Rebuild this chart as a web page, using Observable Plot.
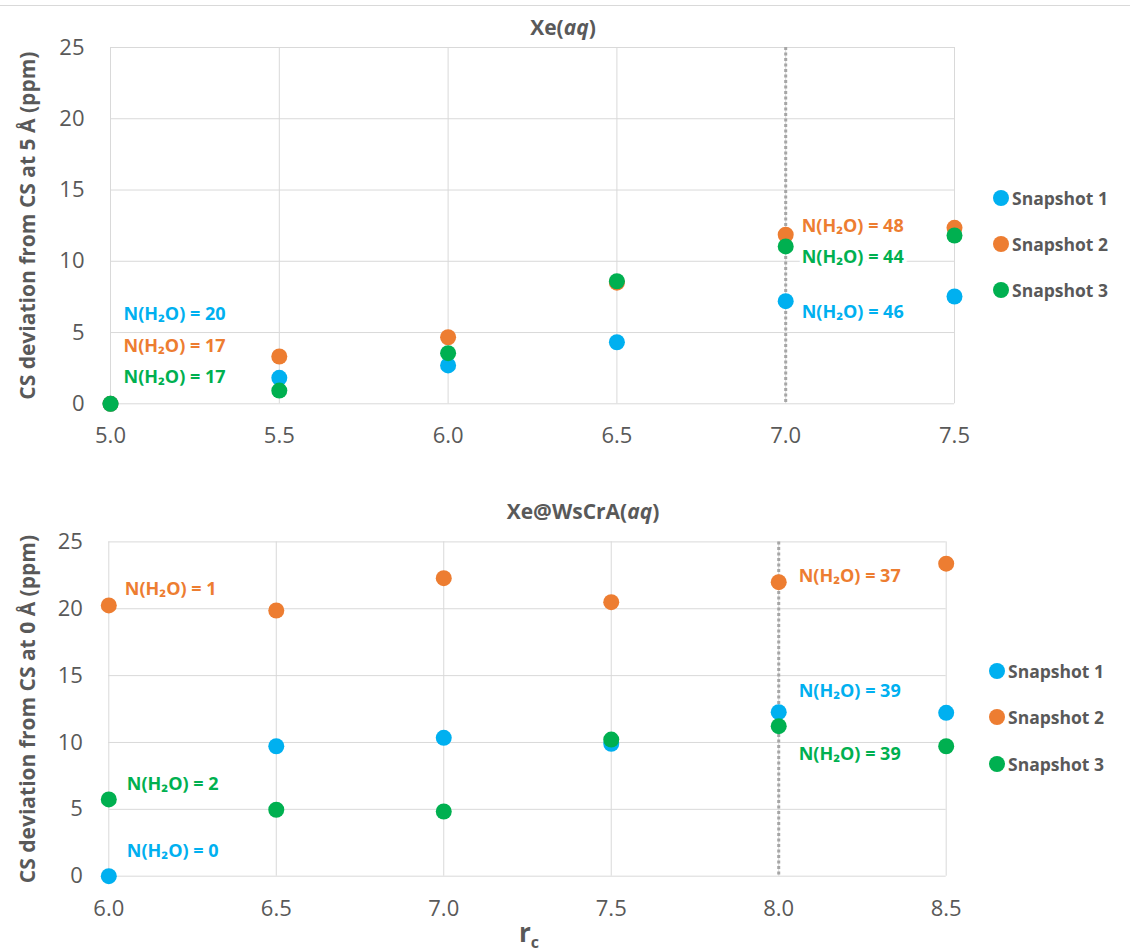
<!DOCTYPE html>
<html>
<head>
<meta charset="utf-8">
<script src="https://cdn.jsdelivr.net/npm/d3@7"></script>
<script src="https://cdn.jsdelivr.net/npm/@observablehq/plot@0.6"></script>
<style>
  html, body { margin: 0; padding: 0; background: #fff; }
  body { width: 1130px; height: 951px; position: relative; overflow: hidden; font-family: "Open Sans", sans-serif; }
  .abs { position: absolute; }
  .title { font-weight: bold; font-size: 21px; color: #595959; white-space: nowrap; transform: translate(-50%, -50%); }
  .legend-item { position: absolute; display: flex; align-items: center; font-weight: bold; font-size: 17.5px; color: #595959; white-space: nowrap; transform: translateY(-50%); }
  .legend-item .dot { display: inline-block; width: 16px; height: 16px; border-radius: 50%; margin-right: 3px; margin-left: -8px; }
  .topline { position: absolute; left: 0; top: 5px; width: 1130px; height: 0; border-top: 1px solid #d9d9d9; }
</style>
</head>
<body>
<div id="top" class="abs" style="left:0;top:0"></div>
<div id="bot" class="abs" style="left:0;top:500px"></div>
<div class="topline"></div>
<div class="abs title" style="left:563px;top:27px">Xe(<i>aq</i>)</div>
<div class="abs title" style="left:583px;top:511px">Xe@WsCrA(<i>aq</i>)</div>
<div class="abs" style="left:519px;top:919px;font-weight:bold;font-size:26px;color:#595959;line-height:1">r<sub style="font-size:16px">c</sub></div>
<div id="legends"></div>
<script>
// ---------- data ----------
const series = ["Snapshot 1", "Snapshot 2", "Snapshot 3"];
const seriesColors = ["#00B0F0", "#ED7D31", "#00B050"];

// Top panel: Xe(aq)
const rcTop = [5.0, 5.5, 6.0, 6.5, 7.0, 7.5];
const topSnap1 = [0, 1.82, 2.69, 4.32, 7.20, 7.53];
const topSnap2 = [0, 3.32, 4.67, 8.50, 11.86, 12.35];
const topSnap3 = [0, 0.93, 3.55, 8.60, 11.04, 11.81];
const topCutoff = 7.0;

// Bottom panel: Xe@WsCrA(aq)
const rcBot = [6.0, 6.5, 7.0, 7.5, 8.0, 8.5];
const botSnap1 = [0, 9.72, 10.35, 9.90, 12.27, 12.22];
const botSnap2 = [20.25, 19.87, 22.29, 20.49, 21.99, 23.37];
const botSnap3 = [5.74, 4.97, 4.84, 10.22, 11.22, 9.72];
const botCutoff = 8.0;

const yTicks = [0, 5, 10, 15, 20, 25];
const topXTicks = [5.0, 5.5, 6.0, 6.5, 7.0, 7.5];
const botXTicks = [6.0, 6.5, 7.0, 7.5, 8.0, 8.5];

// water counts annotated
const topWaterSeries = ["Snapshot 1", "Snapshot 2", "Snapshot 3", "Snapshot 2", "Snapshot 3", "Snapshot 1"];
const topWaterRc = [5.0, 5.0, 5.0, 7.0, 7.0, 7.0];
const topWaterN = [20, 17, 17, 48, 44, 46];
const botWaterSeries = ["Snapshot 2", "Snapshot 3", "Snapshot 1", "Snapshot 2", "Snapshot 1", "Snapshot 3"];
const botWaterRc = [6.0, 6.0, 6.0, 8.0, 8.0, 8.0];
const botWaterN = [1, 2, 0, 37, 39, 39];

// ---------- build ----------
function table(rc, s1, s2, s3) {
  const rows = [];
  [s1, s2, s3].forEach((vals, i) => rc.forEach((x, j) => rows.push({rc: x, v: vals[j], s: series[i]})));
  return rows;
}
function waterRows(ser, rc, n, data) {
  return ser.map((s, i) => {
    const p = data.find(d => d.s === s && d.rc === rc[i]);
    return {rc: p.rc, v: p.v, s, text: `N(H\u2082O) = ${n[i]}`};
  });
}
const font = "Open Sans, sans-serif";
const grey = "#595959";

function panel({data, water, offsets, xTicks, cutoff, yLabel, ml, mr, mt, mb, height}) {
  return Plot.plot({
    width: 1130, height,
    marginLeft: ml, marginRight: mr, marginTop: mt, marginBottom: mb,
    x: {domain: [xTicks[0], xTicks[xTicks.length - 1]]},
    y: {domain: [0, 25]},
    color: {domain: series, range: seriesColors},
    style: {fontFamily: font, color: grey, background: "transparent", overflow: "visible"},
    marks: [
      Plot.gridY(yTicks, {stroke: "#d9d9d9", strokeOpacity: 1, strokeWidth: 1}),
      Plot.gridX(xTicks, {stroke: "#d9d9d9", strokeOpacity: 1, strokeWidth: 1}),
      Plot.ruleX([cutoff], {stroke: "#a6a6a6", strokeWidth: 3, strokeDasharray: "3,2.5"}),
      Plot.axisY(yTicks, {tickSize: 0, tickPadding: 26, fontSize: 22, fill: grey, label: null, tickFormat: d3.format("d")}),
      Plot.axisX(xTicks, {tickSize: 0, tickPadding: 24, fontSize: 22, fill: grey, label: null, tickFormat: d3.format(".1f")}),
      Plot.dot(data, {x: "rc", y: "v", fill: "s", r: 8, stroke: null}),
      ...water.map((w, i) => Plot.text([w], {
        x: "rc", y: "v", text: "text", fill: seriesColors[series.indexOf(w.s)],
        textAnchor: "start", dx: offsets[i][0], dy: offsets[i][1],
        fontSize: 18, fontWeight: "bold", stroke: "white", strokeWidth: 7, paintOrder: "stroke"
      })),
      Plot.text([yLabel], {frameAnchor: "left", textAnchor: "middle", text: d => d, rotate: -90, dx: -ml + 28, fontSize: 21, fontWeight: "bold", fill: grey})
    ]
  });
}

const topData = table(rcTop, topSnap1, topSnap2, topSnap3);
const botData = table(rcBot, botSnap1, botSnap2, botSnap3);
const topWater = waterRows(topWaterSeries, topWaterRc, topWaterN, topData);
const botWater = waterRows(botWaterSeries, botWaterRc, botWaterN, botData);

document.getElementById("top").append(panel({
  data: topData, water: topWater,
  offsets: [[13, -90], [13, -58], [13, -27], [16, -9], [16, 11], [16, 11]],
  xTicks: topXTicks, cutoff: topCutoff,
  yLabel: "CS deviation from CS at 5 Å (ppm)",
  ml: 110, mr: 176, mt: 47, mb: 56.7, height: 460
}));
document.getElementById("bot").append(panel({
  data: botData, water: botWater,
  offsets: [[16, -16], [18, -15], [18, -25], [20, -6], [20, -21], [20, 28]],
  xTicks: botXTicks, cutoff: botCutoff,
  yLabel: "CS deviation from CS at 0 Å (ppm)",
  ml: 108.3, mr: 184.3, mt: 41.4, mb: 75.3, height: 451
}));

// legends (HTML)
const legendSpecs = [{left: 1001, tops: [198, 244, 290]}, {left: 997, tops: [671, 717, 764]}];
const legRoot = document.getElementById("legends");
legendSpecs.forEach(spec => {
  series.forEach((s, i) => {
    const item = document.createElement("div");
    item.className = "legend-item";
    item.style.left = spec.left + "px";
    item.style.top = spec.tops[i] + "px";
    const dot = document.createElement("span");
    dot.className = "dot";
    dot.style.background = seriesColors[i];
    item.append(dot, document.createTextNode(s));
    legRoot.append(item);
  });
});
</script>
</body>
</html>
